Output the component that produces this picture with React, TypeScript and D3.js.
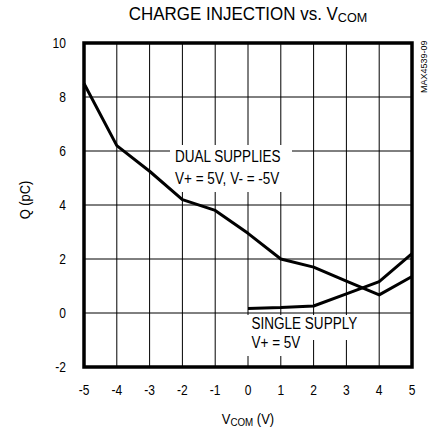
import type { ReactNode } from 'react'
import { line, scaleLinear } from 'd3'

const vcom = [-5, -4, -3, -2, -1, 0, 1, 2, 3, 4, 5]
const dualQ = [8.5, 6.2, 5.25, 4.2, 3.8, 2.95, 2.0, 1.7, 1.18, 0.67, 1.35]

const singleVcom = [0, 1, 2, 3, 4, 5]
const singleQ = [0.17, 0.2, 0.26, 0.71, 1.16, 2.2]

const xTicks = [-5, -4, -3, -2, -1, 0, 1, 2, 3, 4, 5]
const yTicks = [-2, 0, 2, 4, 6, 8, 10]

const width = 432
const height = 430
const margin = { top: 43, right: 20, bottom: 63, left: 84 }
const font = '"Liberation Sans", Arial, Helvetica, sans-serif'

type Pt = { x: number; y: number }

type NarrowProps = {
  x: number
  y: number
  size: number
  sx?: number
  anchor?: 'start' | 'middle' | 'end'
  rotate?: number
  children: ReactNode
}

// condensed text: the reference uses a narrow Helvetica
function Narrow({ x, y, size, sx = 0.84, anchor = 'start', rotate = 0, children }: NarrowProps) {
  return (
    <g transform={`translate(${x}, ${y}) rotate(${rotate}) scale(${sx}, 1)`}>
      <text x={0} y={0} fontSize={size} textAnchor={anchor}>
        {children}
      </text>
    </g>
  )
}

export default function App() {
  const innerWidth = width - margin.left - margin.right
  const innerHeight = height - margin.top - margin.bottom

  const xScale = scaleLinear().domain([-5, 5]).range([0, innerWidth])
  const yScale = scaleLinear().domain([-2, 10]).range([innerHeight, 0])

  const path = line<Pt>()
    .x((d) => xScale(d.x))
    .y((d) => yScale(d.y))

  const dualPts = vcom.map((x, i) => ({ x, y: dualQ[i] }))
  const singlePts = singleVcom.map((x, i) => ({ x, y: singleQ[i] }))

  return (
    <svg
      width={width}
      height={height}
      style={{ position: 'absolute', left: 0, top: 0, background: '#fff' }}
      fontFamily={font}
    >
      <Narrow x={248} y={20} size={17.5} sx={0.97} anchor="middle">
        CHARGE INJECTION vs. V<tspan fontSize={13} dy={2}>COM</tspan>
      </Narrow>

      <Narrow x={427} y={93} size={9.5} sx={0.95} rotate={-90}>
        MAX4539-09
      </Narrow>

      <Narrow x={30} y={200} size={15} sx={0.86} anchor="middle" rotate={-90}>
        Q (pC)
      </Narrow>

      <g transform={`translate(${margin.left}, ${margin.top})`}>
        {xTicks.map((t) => (
          <line
            key={`gx-${t}`}
            x1={xScale(t)}
            x2={xScale(t)}
            y1={0}
            y2={innerHeight}
            stroke="#000"
            strokeWidth={1}
          />
        ))}
        {yTicks.map((t) => (
          <line
            key={`gy-${t}`}
            x1={0}
            x2={innerWidth}
            y1={yScale(t)}
            y2={yScale(t)}
            stroke="#000"
            strokeWidth={1}
          />
        ))}

        {/* label knock-outs */}
        <rect x={86} y={102} width={122} height={47} fill="#fff" />
        <rect x={161} y={272} width={109} height={25} fill="#fff" />
        <rect x={161} y={296} width={56} height={17} fill="#fff" />

        <path d={path(dualPts) ?? ''} fill="none" stroke="#000" strokeWidth={3} strokeLinejoin="round" />
        <path d={path(singlePts) ?? ''} fill="none" stroke="#000" strokeWidth={3} strokeLinejoin="round" />

        <rect
          x={0}
          y={0}
          width={innerWidth}
          height={innerHeight}
          fill="none"
          stroke="#000"
          strokeWidth={3.5}
        />

        <Narrow x={91} y={118.5} size={16.5} sx={0.82}>DUAL SUPPLIES</Narrow>
        <Narrow x={91} y={141} size={16.5} sx={0.82}>V+ = 5V, V- = -5V</Narrow>
        <Narrow x={167.5} y={286.3} size={16.5} sx={0.82}>SINGLE SUPPLY</Narrow>
        <Narrow x={167.5} y={305.3} size={16.5} sx={0.82}>V+ = 5V</Narrow>

        {yTicks.map((t) => (
          <Narrow key={`ly-${t}`} x={-18} y={yScale(t) + 5} size={14} sx={0.86} anchor="end">
            {t}
          </Narrow>
        ))}
        {xTicks.map((t) => (
          <Narrow key={`lx-${t}`} x={xScale(t)} y={innerHeight + 28} size={14} sx={0.86} anchor="middle">
            {t}
          </Narrow>
        ))}
        <Narrow x={innerWidth / 2} y={innerHeight + 57} size={15.3} sx={0.85} anchor="middle">
          V<tspan fontSize={11.5} dy={2}>COM</tspan>
          <tspan dy={-2} fontSize={15.3}> (V)</tspan>
        </Narrow>
      </g>
    </svg>
  )
}
